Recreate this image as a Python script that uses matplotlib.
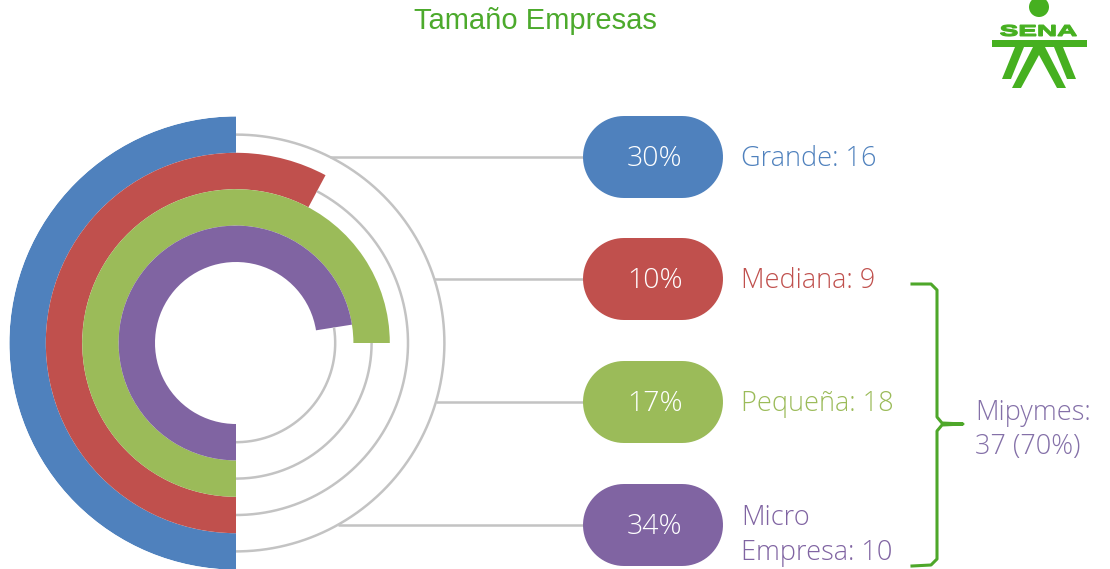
import numpy as np
import matplotlib
matplotlib.use("Agg")
import matplotlib.pyplot as plt
from matplotlib.patches import Circle, Rectangle, Polygon, PathPatch
from matplotlib.textpath import TextPath
from matplotlib.font_manager import FontProperties
from matplotlib.transforms import Affine2D

# ---- data ----
categories = ["Grande", "Mediana", "Pequeña", "Micro\nEmpresa"]
counts = [16, 9, 18, 10]
percent_labels = ["30%", "10%", "17%", "34%"]
# part of the full circle each ring covers, outer ring first
arc_share = [0.500, 0.578, 0.750, 0.725]
group_label = "Mipymes:\n37 (70%)"
title = "Tamaño Empresas"

colors = ["#4f81bd", "#c0504d", "#9bbb59", "#8064a2"]
text_colors = ["#4f81bd", "#c0504d", "#9bbb59", "#8064a2"]
gray = "#c3c3c3"
sena_green = "#46b020"

W, H = 1110, 569
fig = plt.figure(figsize=(W / 100, H / 100), dpi=100)

# flat axes in pixel units for everything around the rings
ax = fig.add_axes([0, 0, 1, 1])
ax.set_xlim(0, W)
ax.set_ylim(H, 0)
ax.axis("off")

# ring geometry (pixels)
cx, cy = 236, 343
r_hole = 81
ring_w = 36.4
r_max = r_hole + 4 * ring_w

pax = fig.add_axes([(cx - r_max) / W, (H - cy - r_max) / H, 2 * r_max / W, 2 * r_max / H],
                   projection="polar")
pax.set_theta_zero_location("S")
pax.set_theta_direction(-1)
pax.set_ylim(0, r_max)
pax.axis("off")

for i, share in enumerate(arc_share):
    r_in = r_hole + (3 - i) * ring_w
    pax.bar(0, ring_w, width=share * 2 * np.pi, bottom=r_in, align="edge",
            color=colors[i], linewidth=0)
    # thin grey track for the rest of the circle
    th = np.linspace(share * 2 * np.pi, 2 * np.pi, 300)
    pax.plot(th, np.full_like(th, r_in + ring_w / 2), color=gray, lw=1.8,
             solid_capstyle="butt", clip_on=False)


def pill_outline(x, y, w, h):
    # capsule shape: two half circles joined by straight sides
    r = h / 2
    a = np.linspace(-np.pi / 2, np.pi / 2, 40)
    right = np.column_stack([x + w - r + r * np.cos(a), y + r * np.sin(a)])
    left = np.column_stack([x + r - r * np.cos(a), y - r * np.sin(a)])
    return np.vstack([right, left])


# rows on the right
row_y = [157, 279, 402, 525]
pill_x, pill_w, pill_h = 583, 140, 82
r_track = r_hole + 3.5 * ring_w
font_kw = dict(family=["Open Sans", "Lato", "DejaVu Sans"], fontweight="light")

for i, y in enumerate(row_y):
    x0 = cx + np.sqrt(r_track ** 2 - (y - cy) ** 2)
    ax.plot([x0, pill_x + 10], [y, y], color=gray, lw=1.8, solid_capstyle="butt")
    ax.add_patch(Polygon(pill_outline(pill_x, y, pill_w, pill_h), closed=True,
                         fc=colors[i], ec="none", zorder=3))
    ax.text(pill_x + pill_w / 2 + 2, y + 1.5, percent_labels[i], color="white", fontsize=20.5,
            ha="center", va="center", zorder=4, **font_kw)
    ax.text(741, y + 10.5 if "\n" in categories[i] else y + 2,
            f"{categories[i]}: {counts[i]}", color=text_colors[i], fontsize=19.5,
            ha="left", va="center", linespacing=1.3, **font_kw)

# brace grouping the Mipymes rows
brace = [(912, 284), (931, 284), (937, 290), (937, 417), (942, 423), (963, 424),
         (942, 425), (937, 431), (937, 559), (931, 565), (912, 566)]
ax.plot([p[0] for p in brace], [p[1] for p in brace], color="#4ea72a", lw=2.2,
        solid_joinstyle="round")
ax.text(975, 430, group_label, color="#8470a8", fontsize=19.5, ha="left",
        va="center", linespacing=1.3, **font_kw)

ax.text(535, 21, title, color="#4caa2c", fontsize=21, ha="center", va="center",
        family=["Liberation Sans", "DejaVu Sans"])

# SENA logo
ax.add_patch(Circle((1039, 7), 10, fc=sena_green, ec="none"))
tp = TextPath((0, 0), "SENA", size=20, prop=FontProperties(family="Liberation Sans", weight="bold"))
ext = tp.get_extents()
sx = 76 / ext.width
sy = 11 / ext.height
tr = Affine2D().translate(-ext.x0, -ext.y0).scale(sx, -sy).translate(1000.5, 36)
ax.add_patch(PathPatch(tr.transform_path(tp), fc=sena_green, ec=sena_green, lw=0.9))
ax.add_patch(Rectangle((992, 40), 95, 7, fc=sena_green, ec="none"))
logo_parts = [
    [(1015, 47), (1024, 47), (1011, 79), (1002, 79)],
    [(1063, 47), (1054, 47), (1067, 79), (1076, 79)],
    [(1033, 47), (1045, 47), (1066, 88), (1057, 88), (1039, 55), (1021, 88), (1012, 88)],
]
for pts in logo_parts:
    ax.add_patch(Polygon(pts, closed=True, fc=sena_green, ec="none"))

fig.savefig("out.png", dpi=100)
